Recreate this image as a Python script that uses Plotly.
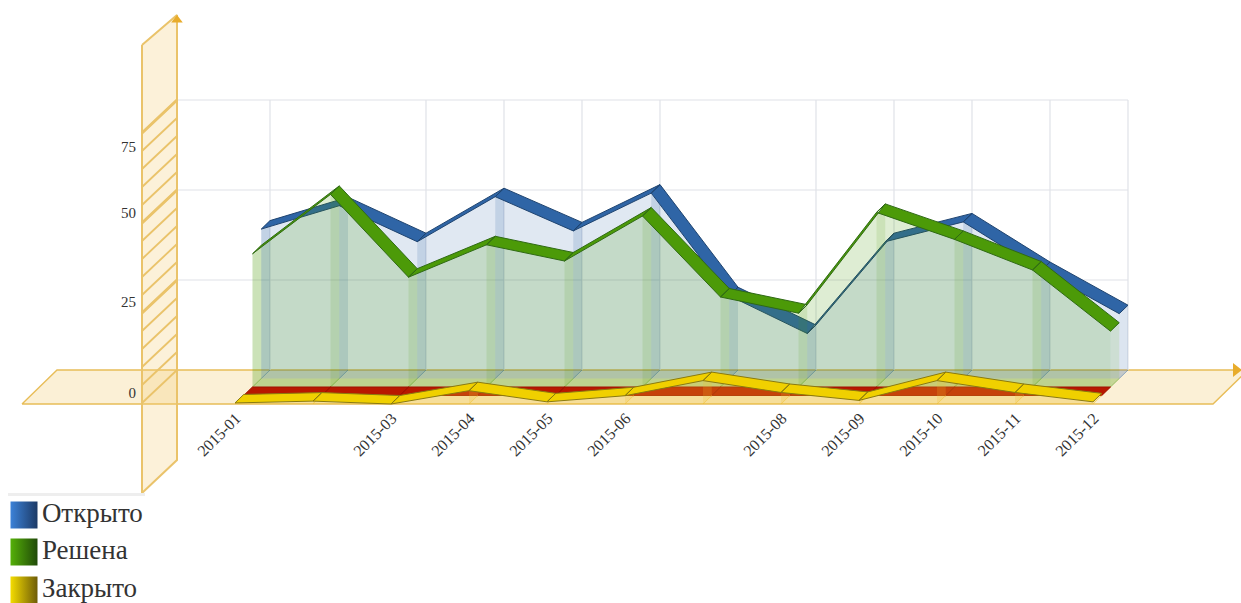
import plotly.graph_objects as go

# ---- data ----
months = ["2015-01", "2015-02", "2015-03", "2015-04", "2015-05", "2015-06",
          "2015-07", "2015-08", "2015-09", "2015-10", "2015-11", "2015-12"]
otkryto = [41.5, 48, 38, 50.5, 41, 51.5, 23, 12.5, 38, 43.5, 30, 18]
reshena = [37, 53.5, 30.5, 39.5, 35, 47.5, 25, 20.5, 48.5, 41, 32.5, 15.5]
neizv = [0, 0, 0, 0, 0, 0, 0, 0, 0, 0, 0, 0]
zakryto = [0.3, 0.8, 0, 3.7, 0.6, 2.3, 6.5, 3.2, 1.0, 6.5, 3.2, 0.6]
y_ticks = [0, 25, 50, 75]
y_tick_text = ["0", "25", "50", "75"]
hatch_values = list(range(0, 80, 5))
shown_x = ["2015-01", "2015-03", "2015-04", "2015-05", "2015-06", "2015-08",
           "2015-09", "2015-10", "2015-11", "2015-12"]
legend_names = ["Открыто", "Решена", "Закрыто"]

# ---- scales: pixel size of one month / one value on the back wall ----
W, H = 1241, 603
PX_MONTH, PX_VALUE = 78.0, 3.6
X0, Y0 = 270.0, 370.0      # month 1, value 0 on the back wall
SLOT_DX, SLOT_DY = 8.75, 8.5
x_range = [1 - X0 / PX_MONTH, 1 + (W - X0) / PX_MONTH]
y_range = [-(H - Y0) / PX_VALUE, Y0 / PX_VALUE]
idx = list(range(1, 13))


def dx(px):
    return px / PX_MONTH


def dy(px):
    return px / PX_VALUE


def ax(px):
    return 1 + (px - X0) / PX_MONTH


def ay(py):
    return (Y0 - py) / PX_VALUE


ORANGE = "#eac36a"
fig = go.Figure()


def poly(xs, ys, fill, line="rgba(0,0,0,0)", width=0, name=None):
    fig.add_trace(go.Scatter(x=xs, y=ys, mode="lines", fill="toself", fillcolor=fill,
                             line=dict(color=line, width=width), hoverinfo="skip",
                             showlegend=False, name=name))


def lines(xs, ys, color, width, name=None):
    fig.add_trace(go.Scatter(x=xs, y=ys, mode="lines", line=dict(color=color, width=width),
                             hoverinfo="skip", showlegend=False, name=name))


# floor
poly([ax(22), ax(57), ax(1248), ax(1213), ax(22)], [ay(404), ay(370), ay(370), ay(404), ay(404)],
     "rgba(243,205,120,0.30)", "#e8bd58", 1.4, "floor")

# back wall grid
gx, gy = [], []
for v in y_ticks[1:]:
    gx += [ax(177), 12, None]
    gy += [v, v, None]
for m, lab in zip(idx, months):
    if lab in shown_x:
        gx += [m, m, None]
        gy += [0, 75, None]
lines(gx, gy, "#e0e2e8", 1.2, "grid")


def series(values, k, rgb, ribbon, edge, face_a, side_a, base_a):
    fx, fy = -dx(SLOT_DX) * (k + 1), -dy(SLOT_DY) * (k + 1)
    bx, by = -dx(SLOT_DX) * k, -dy(SLOT_DY) * k
    col = lambda a: f"rgba({rgb},{a})"
    # floor of the slot
    poly([1 + bx, 12 + bx, 12 + fx, 1 + fx, 1 + bx], [by, by, fy, fy, by], col(base_a))
    # front face
    poly([1 + fx] + [m + fx for m in idx] + [12 + fx, 1 + fx],
         [fy] + [v + fy for v in values] + [fy, fy], col(face_a))
    # side faces at each month
    sx, sy = [], []
    tx, ty = [], []
    for m, v in zip(idx, values):
        sx += [m + fx, m + bx, m + bx, m + fx, m + fx, None]
        sy += [fy, by, v + by, v + fy, fy, None]
        tx += [m + fx, m + bx, None]
        ty += [fy, by, None]
    poly(sx, sy, col(side_a))
    lines(tx, ty, col(0.45), 1)
    # top ribbon
    rx, ry = [], []
    for i in range(11):
        m0, m1, v0, v1 = idx[i], idx[i + 1], values[i], values[i + 1]
        rx += [m0 + fx, m1 + fx, m1 + bx, m0 + bx, m0 + fx, None]
        ry += [v0 + fy, v1 + fy, v1 + by, v0 + by, v0 + fy, None]
    poly(rx, ry, ribbon, edge, 1)


series(otkryto, 0, "47,102,168", "#2f65a6", "#1f4470", 0.15, 0.17, 0.12)
series(reshena, 1, "74,154,10", "#4c9a08", "#2f6a14", 0.18, 0.13, 0.20)
series(neizv, 2, "190,40,0", "#b81800", "#a01000", 0.0, 0.3, 0.0)
series(zakryto, 3, "240,190,40", "#f0d000", "#8a7a10", 0.25, 0.2, 0.12)

# value wall with hatching
poly([ax(142), ax(177), ax(177), ax(142), ax(142)], [ay(45), ay(15), ay(460), ay(493), ay(45)],
     "rgba(243,205,120,0.28)", ORANGE, 2, "wall")
hx, hy = [], []
for v in hatch_values:
    hx += [ax(177), ax(142), None]
    hy += [v, v - dy(33), None]
lines(hx, hy, ORANGE, 1.8, "hatch")
thx, thy = [], []
for v in y_ticks[1:]:
    thx += [ax(177), ax(142), None]
    thy += [v, v - dy(33), None]
lines(thx, thy, ORANGE, 3, "major hatch")

# arrow heads
fig.add_trace(go.Scatter(x=[ax(177)], y=[ay(20)], mode="markers", hoverinfo="skip", showlegend=False,
                         marker=dict(symbol="triangle-up", size=10, color="#e8ac2c")))
fig.add_trace(go.Scatter(x=[ax(1236)], y=[ay(370)], mode="markers", hoverinfo="skip", showlegend=False,
                         marker=dict(symbol="triangle-right", size=12, color="#e8ac2c")))

# legend
lines([ax(8), ax(145)], [ay(494.5), ay(494.5)], "#eeeeee", 3, "legend top")
legend_y = [515, 552, 590]
legend_c = [("#3c82d8", "#1c3a66"), ("#55b008", "#204a08"), ("#f4dc00", "#6e5c08")]
for name, py, (c0, c1) in zip(legend_names, legend_y, legend_c):
    fig.add_trace(go.Scatter(
        x=[ax(24)], y=[ay(py)], mode="markers+text", text=[name], textposition="middle right",
        textfont=dict(family="Liberation Serif", size=27, color="#333333"),
        marker=dict(symbol="square", size=27, color=c0, gradient=dict(type="horizontal", color=c1)),
        hoverinfo="skip", showlegend=False, name=name, cliponaxis=False))

# tick labels: drawn on the front of floor and wall
x_tickvals = [idx[months.index(s)] - dx(34) for s in shown_x]
label_shift = [-6.4, -6.1, -6.4, -13.1]
y_tickvals = [v + s for v, s in zip(y_ticks, label_shift)]

fig.update_layout(
    width=W, height=H, margin=dict(l=0, r=0, t=0, b=0),
    paper_bgcolor="white", plot_bgcolor="white", showlegend=False,
    xaxis=dict(range=x_range, domain=[0, 1], anchor="free", position=1 - 405 / H,
               tickmode="array", tickvals=x_tickvals, ticktext=shown_x, tickangle=-45,
               tickfont=dict(family="Liberation Serif", size=16, color="#333333"),
               showgrid=False, zeroline=False, showline=False, ticks=""),
    yaxis=dict(range=y_range, domain=[0, 1], anchor="free", position=136 / W,
               tickmode="array", tickvals=y_tickvals, ticktext=y_tick_text,
               tickfont=dict(family="Liberation Serif", size=15, color="#333333"),
               showgrid=False, zeroline=False, showline=False, ticks=""),
)
fig.write_html("out.html", config=dict(displayModeBar=False),
               post_script="document.body.style.margin='0';document.body.style.overflow='hidden';")
